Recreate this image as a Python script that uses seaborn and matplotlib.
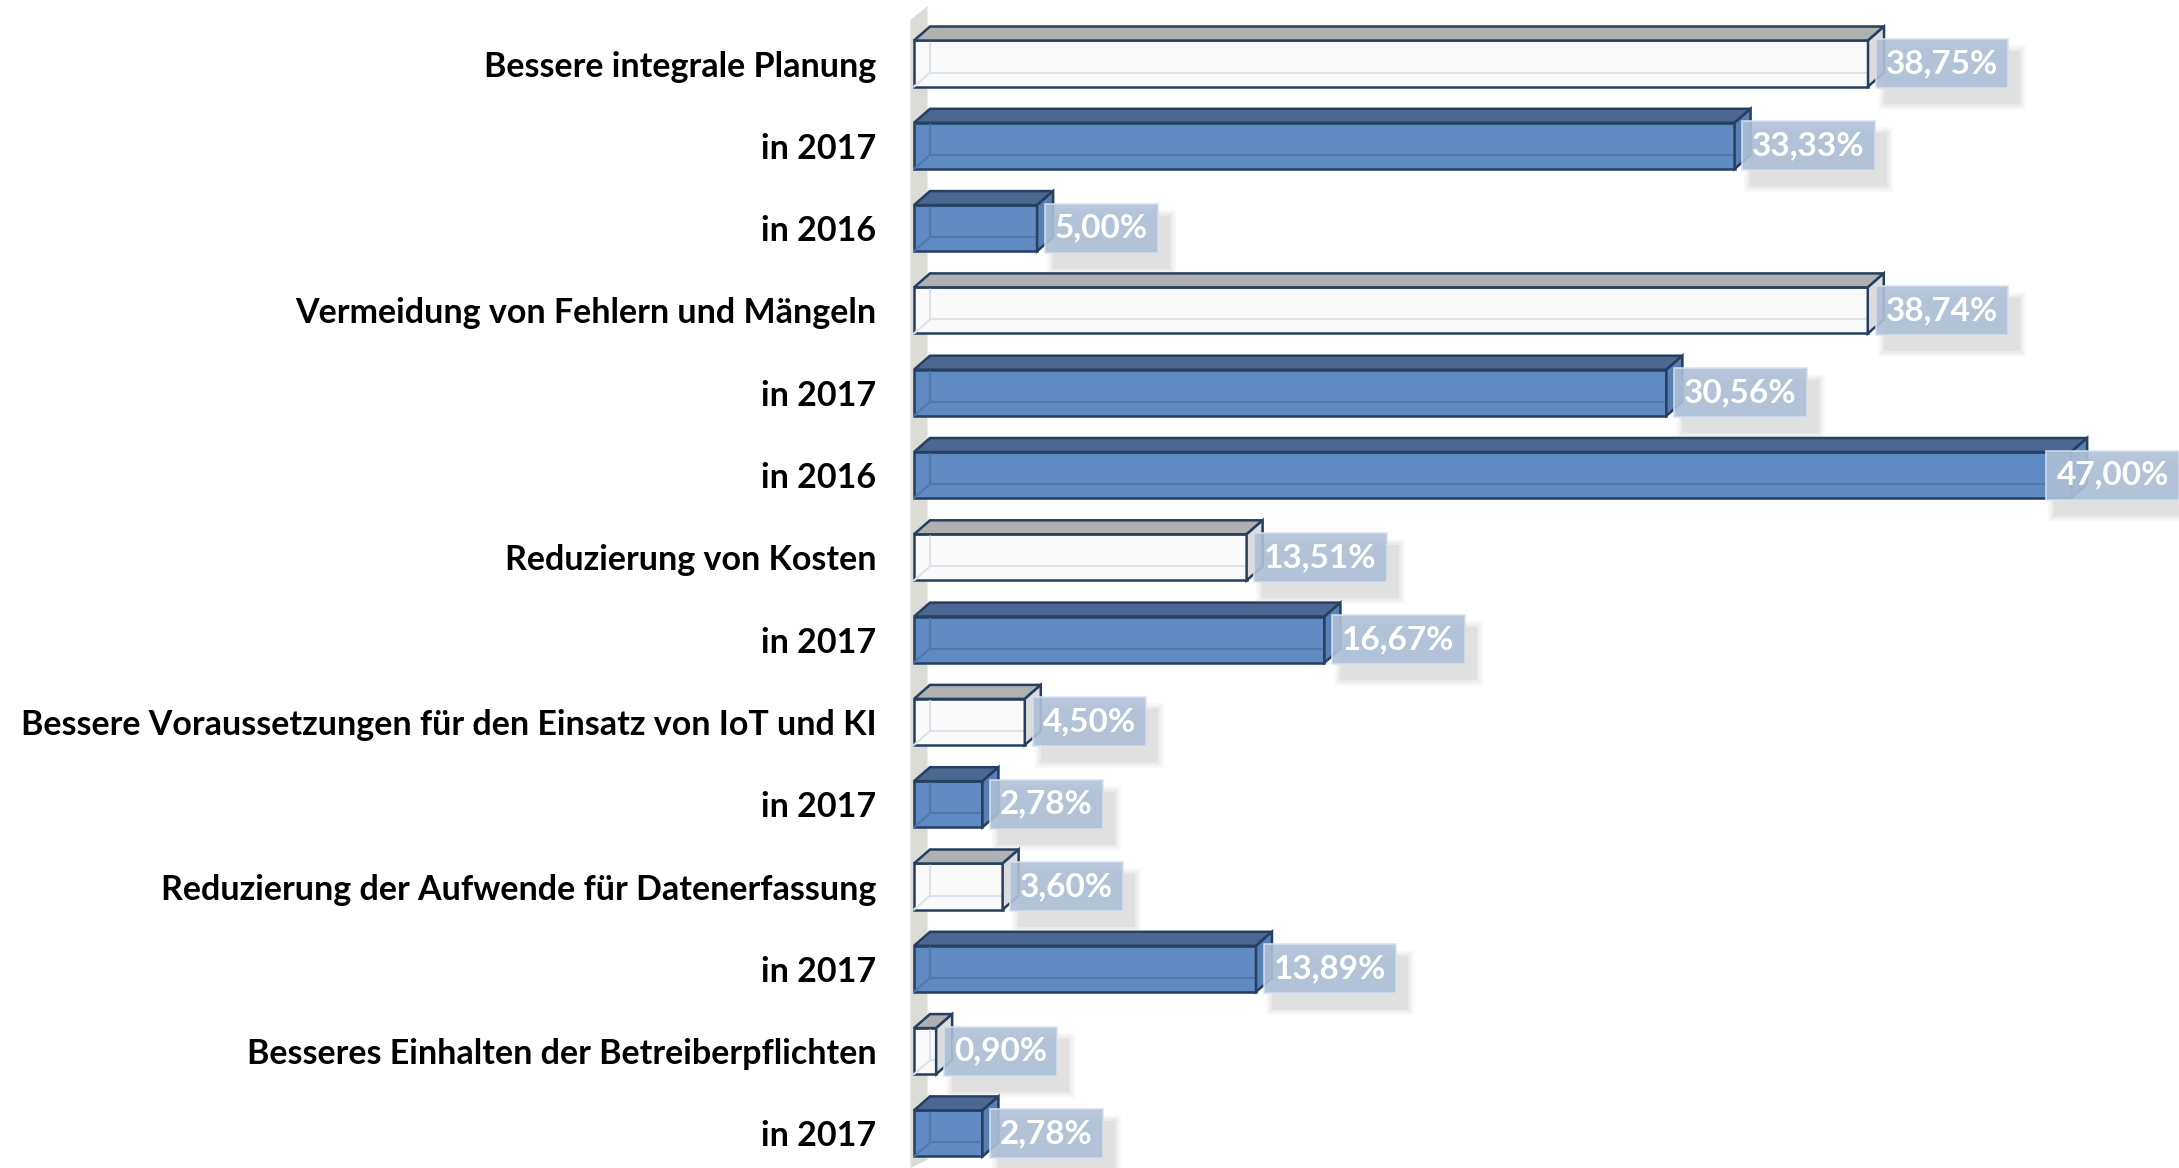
import numpy as np
import pandas as pd
import matplotlib
matplotlib.use("Agg")
import matplotlib.pyplot as plt
from matplotlib.patches import Polygon, Rectangle
import seaborn as sns

labels = ["Bessere integrale Planung", "in 2017", "in 2016",
          "Vermeidung von Fehlern und Mängeln", "in 2017", "in 2016",
          "Reduzierung von Kosten", "in 2017",
          "Bessere Voraussetzungen für den Einsatz von IoT und KI", "in 2017",
          "Reduzierung der Aufwende für Datenerfassung", "in 2017",
          "Besseres Einhalten der Betreiberpflichten", "in 2017"]
values = [38.75, 33.33, 5.00, 38.74, 30.56, 47.00, 13.51, 16.67, 4.50, 2.78, 3.60, 13.89, 0.90, 2.78]
groups = ["gesamt" if not l.startswith("in ") else "jahr" for l in labels]

face = {"gesamt": "#fafafa", "jahr": "#5f8bc2"}
top_face = {"gesamt": "#b0b0b0", "jahr": "#4a6891"}
side_face = {"gesamt": "#dcdcdc", "jahr": "#5780b5"}
inner = {"gesamt": "#dde3ea", "jahr": "#4f79ad"}
edge = "#243f60"

sns.set_style("white")
plt.rcParams["font.family"] = ["Lato", "DejaVu Sans"]

df = pd.DataFrame({"pos": np.arange(len(values)), "wert": values, "art": groups})

W, H = 2179, 1168
px_per = 24.62
left_px = 900
fig = plt.figure(figsize=(W / 100, H / 100), dpi=100)
ax = fig.add_axes([left_px / W, 0, 1 - left_px / W, 1])

sns.barplot(data=df, x="wert", y="pos", hue="art", palette=face, dodge=False,
            orient="h", width=0.56, edgecolor=edge, linewidth=1.8, saturation=1,
            errorbar=None, legend=False, ax=ax)
bars = [p for p in ax.patches if hasattr(p, "get_width")]

xmin = (left_px - 914) / px_per
xmax = (W - 914) / px_per
ax.set_xlim(xmin, xmax)
ax.set_ylim(13.42, -0.772)

dx, dy = 0.65, 0.17

# back wall
ax.add_patch(Polygon([(-0.15, 13.42), (-0.15, -0.53), (dx - 0.1, -0.53 - dy), (dx - 0.1, 13.32)],
                     closed=True, fc="#dcdcd6", ec="none", zorder=0))

for p in bars:
    w = p.get_width()
    if not np.isfinite(w) or w <= 0:
        continue
    i = int(round(p.get_y() + p.get_height() / 2))
    g = groups[i]
    x0, yt = p.get_x(), p.get_y()
    yb = yt + p.get_height()
    x1 = x0 + w
    p.set_zorder(2)
    # hidden edges seen through the front face
    ax.plot([x0 + dx, x1 + dx], [yb - dy, yb - dy], color=inner[g], lw=1.5, zorder=3)
    ax.plot([x0 + dx, x0 + dx], [yt - dy, yb - dy], color=inner[g], lw=1.5, zorder=3)
    ax.plot([x0, x0 + dx], [yb, yb - dy], color=inner[g], lw=1.5, zorder=3)
    ax.add_patch(Polygon([(x0, yt), (x0 + dx, yt - dy), (x1 + dx, yt - dy), (x1, yt)],
                         closed=True, fc=top_face[g], ec=edge, lw=1.8, zorder=3))
    ax.add_patch(Polygon([(x1, yt), (x1 + dx, yt - dy), (x1 + dx, yb - dy), (x1, yb)],
                         closed=True, fc=side_face[g], ec=edge, lw=1.8, zorder=3))

# value labels
texts = []
for i, v in enumerate(values):
    tx = min(v + 0.3, xmax - 5.4) + 0.42
    s = f"{v:.2f}%".replace(".", ",")
    t = ax.text(tx, i, s, fontsize=24, fontweight="bold", color="white", va="center", ha="left",
                bbox=dict(boxstyle="square,pad=0.3", fc="#afc0d7", ec="#d6e0ec", lw=1.2, alpha=0.9),
                zorder=5)
    texts.append(t)

ax.set_yticks(range(len(labels)))
ax.set_yticklabels(labels, fontsize=24.5, fontweight="bold", color="black")
ax.tick_params(axis="y", length=0, pad=17)
ax.set_xticks([])
ax.set_ylabel("")
ax.set_xlabel("")
sns.despine(ax=ax, left=True, bottom=True)

# soft shadows below the label boxes
fig.canvas.draw()
inv = ax.transData.inverted()
for t in texts:
    bb = t.get_bbox_patch().get_window_extent()
    for k, a in enumerate([0.05, 0.06, 0.08, 0.1]):
        grow = 8 - 2 * k
        (sx0, sy0), (sx1, sy1) = inv.transform([(bb.x0 + 10 - grow, bb.y0 - 14 - grow),
                                                (bb.x1 + 10 + grow, bb.y1 - 14 + grow)])
        ax.add_patch(Rectangle((sx0, sy0), sx1 - sx0, sy1 - sy0, fc="#8c8c8c", ec="none",
                               alpha=a, zorder=4))

fig.savefig("out.png", dpi=100)
